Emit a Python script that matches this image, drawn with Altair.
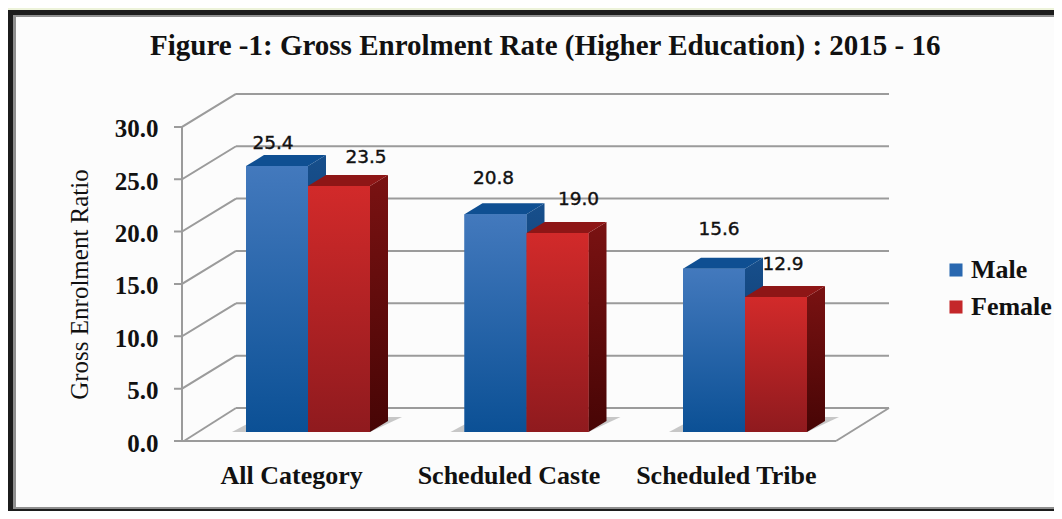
import altair as alt
import pandas as pd

categories = ["All Category", "Scheduled Caste", "Scheduled Tribe"]
male = [25.4, 20.8, 15.6]
female = [23.5, 19.0, 12.9]
series = ["Male", "Female"]
tick_values = [0, 5, 10, 15, 20, 25, 30]
# label nudges (above bar top in value units, and horizontally in pixels)
label_lift = [[2.2, 2.8], [3.5, 3.25], [3.8, 3.15]]
label_shift = [[-4, 27], [-2, 21], [5, 7]]

OX, OY = 8, 8
W, H = 1046, 503
PX = 10.47                 # pixels per unit on the y scale
Y0 = 441                   # image y of value 0
FRONT_L, FRONT_R = 184, 836
WALL_DX, WALL_DV = 52, 33 / PX
BAR_DX, BAR_DV = 18, 11 / PX
BASE = 9 / PX
STEP = (FRONT_R - FRONT_L) / 3
BAR_STEP = 218.5
BAR_FIRST = 308
BAR_W = 62
AX = FRONT_L - 2

x_scale = alt.Scale(domain=[OX, OX + W], range=[0, W], nice=False, zero=False)
y_scale = alt.Scale(domain=[(Y0 - OY - H) / PX, (Y0 - OY) / PX], range=[H, 0], nice=False, zero=False)
y_axis_spec = alt.Axis(
    values=tick_values, format=".1f", offset=-(AX - 8 - OX), domain=False, ticks=False, labelPadding=16,
    labelFont="Liberation Serif", labelFontWeight="bold", labelFontSize=25, labelColor="#111", labelOffset=2,
    title="Gross Enrolment Ratio", titleFont="Liberation Serif", titleFontWeight="normal", titleFontSize=25,
    titleColor="#111", titlePadding=22, titleY=276, grid=False, zindex=1)
X = lambda f: alt.X(f, type="quantitative", scale=x_scale, axis=None)
Y = lambda f: alt.Y(f, type="quantitative", scale=y_scale, axis=y_axis_spec)


def grad(c1, c2):
    return alt.Gradient(gradient="linear", x1=0, y1=0, x2=0, y2=1,
                        stops=[alt.GradientStop(offset=0, color=c1), alt.GradientStop(offset=1, color=c2)])


def box(x0, x1, y0, y1, color):
    d = pd.DataFrame({"a": [0]})
    return alt.Chart(d).mark_rect(color=color).encode(
        x=alt.value(x0 - OX), x2=alt.value(x1 - OX), y=alt.value(y0 - OY), y2=alt.value(y1 - OY))


# frame
frame = [
    box(8, 1054, 10, 511, "#1c1c1c"),
    box(13, 1054, 15, 509, "#8f8f8f"),
    box(16, 1054, 17, 507, "#fcfcfc"),
]

# wall and floor lines
rows = []
gid = 0
def seg(pts):
    global gid
    for i, (a, b) in enumerate(pts):
        rows.append({"g": gid, "i": i, "x": a, "y": b})
    gid += 1

for v in tick_values:
    seg([(AX - 8, v), (AX, v), (AX + WALL_DX + 2, v + WALL_DV)] if v else [(AX - 8, 0), (FRONT_R, 0)])
    seg([(FRONT_L + WALL_DX, v + WALL_DV), (FRONT_R + WALL_DX + 1, v + WALL_DV)])
seg([(AX, 0), (AX, 30)])
seg([(FRONT_L, 0), (FRONT_L + WALL_DX, WALL_DV)])
seg([(FRONT_R, 0), (FRONT_R + WALL_DX + 1, WALL_DV)])
lines = alt.Chart(pd.DataFrame(rows)).mark_line(color="#9b9b9b", strokeWidth=2, clip=False).encode(
    x=X("x"), y=Y("y"), detail="g:N", order="i:Q")

front, tops, sides = [], [], []
for s, vals in enumerate([male, female]):
    fr, tp, sd = [], [], []
    for c, v in enumerate(vals):
        center = BAR_FIRST + BAR_STEP * c
        x0 = center - BAR_W + s * BAR_W
        x1 = x0 + BAR_W
        fr.append({"cat": categories[c], "series": series[s], "x": x0, "x2": x1, "y": BASE, "y2": BASE + v})
        tp.append({"cat": categories[c], "y": BASE + v, "x": x0, "x2": x1})
        tp.append({"cat": categories[c], "y": BASE + v + BAR_DV, "x": x0 + BAR_DX, "x2": x1 + BAR_DX})
        sd.append({"cat": categories[c], "x": x1, "y": BASE, "y2": BASE + v})
        sd.append({"cat": categories[c], "x": x1 + BAR_DX, "y": BASE + BAR_DV, "y2": BASE + v + BAR_DV})
    front.append(pd.DataFrame(fr)); tops.append(pd.DataFrame(tp)); sides.append(pd.DataFrame(sd))

# floor shadows
sh = []
for c in range(3):
    center = BAR_FIRST + BAR_STEP * c
    sh.append({"cat": c, "y": BASE, "x": center - BAR_W - 14, "x2": center + BAR_W})
    sh.append({"cat": c, "y": BASE + 15 / PX, "x": center - BAR_W + 14, "x2": center + BAR_W + 32})
shadows = alt.Chart(pd.DataFrame(sh)).mark_area(orient="horizontal", color="#b5b5b5", opacity=0.75).encode(
    y=Y("y"), x=X("x"), x2="x2", detail="cat:N")

color = alt.Color("series:N", scale=alt.Scale(domain=series, range=["#2a68b0", "#c4272a"]),
                  legend=alt.Legend(orient="none", legendX=943 - OX, legendY=257 - OY, title=None,
                                    symbolType="square", symbolSize=170, symbolStrokeWidth=0, rowPadding=11,
                                    labelFont="Liberation Serif", labelFontWeight="bold", labelFontSize=26,
                                    labelColor="#111", labelOffset=2))
base_front = alt.Chart(pd.concat(front)).mark_rect().encode(
    x=X("x"), x2="x2", y=Y("y"), y2="y2", color=color)

styles = [
    dict(front=("#4379bd", "#0b5095"), top="#0f4f92", side=("#174f8c", "#0a2f5c")),
    dict(front=("#d22a2a", "#8f1a1e"), top="#8e1616", side=("#7a1212", "#470505")),
]
bars = []
for s in range(2):
    st = styles[s]
    bars.append(alt.Chart(sides[s]).mark_area(color=grad(*st["side"])).encode(
        x=X("x"), y=Y("y"), y2="y2", detail="cat:N"))
    bars.append(alt.Chart(tops[s]).mark_area(orient="horizontal", color=st["top"]).encode(
        y=Y("y"), x=X("x"), x2="x2", detail="cat:N"))
    bars.append(alt.Chart(front[s]).mark_rect(color=grad(*st["front"])).encode(
        x=X("x"), x2="x2", y=Y("y"), y2="y2"))

# labels
lab = []
for s, vals in enumerate([male, female]):
    for c, v in enumerate(vals):
        center = BAR_FIRST + BAR_STEP * c
        lab.append({"t": f"{v:.1f}", "x": center - BAR_W / 2 + s * BAR_W + label_shift[c][s],
                    "y": BASE + v + label_lift[c][s]})
value_labels = alt.Chart(pd.DataFrame(lab)).mark_text(
    font="DejaVu Sans", fontSize=18.5, color="#111", stroke="#111", strokeWidth=0.4, baseline="middle").encode(
    x=X("x"), y=Y("y"), text="t:N")

cat_df = pd.DataFrame({"cat": categories, "x": [FRONT_L + STEP * (i + 0.5) - 1 for i in range(3)], "y": [-3.35] * 3})
cat_labels = alt.Chart(cat_df).mark_text(
    font="Liberation Serif", fontWeight="bold", fontSize=26, color="#111", baseline="middle").encode(
    x=X("x"), y=Y("y"), text="cat:N")

chart = alt.layer(*frame, lines, shadows, base_front, *bars, value_labels, cat_labels).properties(
    width=W, height=H, padding=0, autosize="none", background="#edf3da",
    title=alt.TitleParams("Figure -1: Gross Enrolment Rate (Higher Education) : 2015 - 16",
                          font="Liberation Serif", fontWeight="bold", fontSize=29, color="#111",
                          anchor="start", frame="group", offset=-48, dx=142, dy=34, baseline="bottom"),
).configure_view(stroke=None)

chart.save("out.html", embed_options={"renderer": "svg", "actions": False})
